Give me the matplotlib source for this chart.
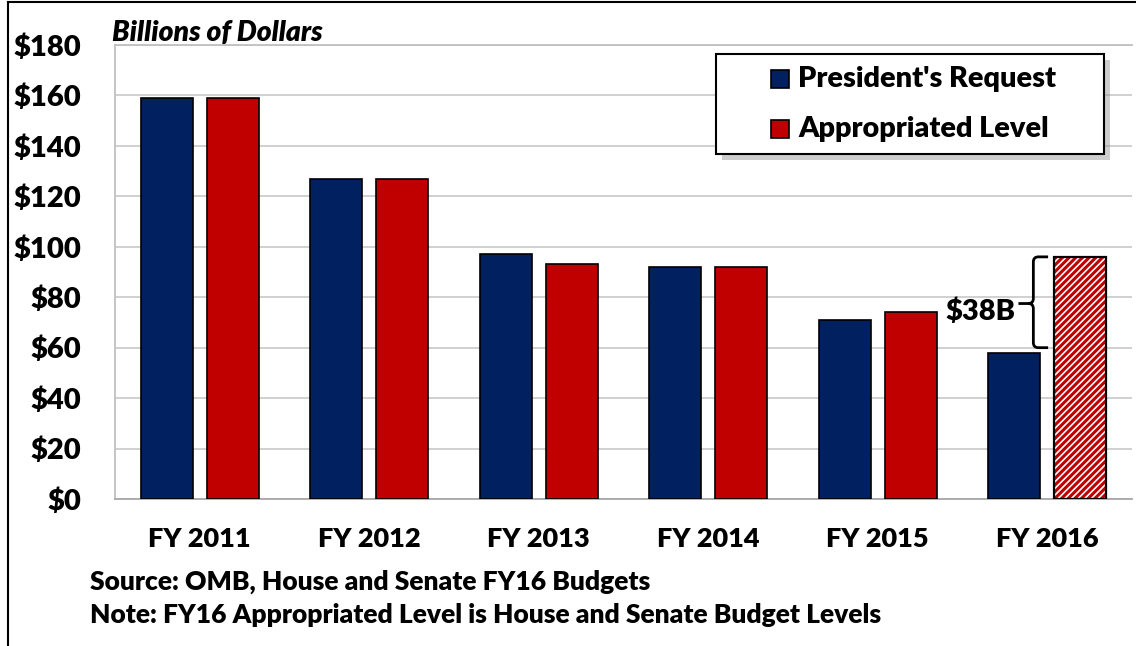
import numpy as np
import matplotlib
matplotlib.use("Agg")
import matplotlib.pyplot as plt
from matplotlib.patches import Rectangle
from matplotlib.path import Path
from matplotlib.patches import PathPatch
from matplotlib.lines import Line2D

# data (billions of dollars)
years = ["FY 2011", "FY 2012", "FY 2013", "FY 2014", "FY 2015", "FY 2016"]
request = [159, 127, 97, 92, 71, 58]
appropriated = [159, 127, 93, 92, 74, 96]
gap_label = "\\$38B"

navy = "#002060"
red = "#C00000"
W, H = 1136, 646
WT = "heavy"

plt.rcParams["font.family"] = ["Lato", "DejaVu Sans"]
plt.rcParams["font.weight"] = WT
plt.rcParams["hatch.linewidth"] = 2.2

fig = plt.figure(figsize=(W / 100, H / 100), dpi=100)
ax = fig.add_axes([115 / W, 1 - 499 / H, (1132 - 115) / W, (499 - 45) / H])

x = np.arange(len(years))
bw = 0.307
off = 0.195

ax.bar(x - off, request, bw, color=navy, edgecolor="black", linewidth=1.2, zorder=3)
# last appropriated bar is hatched (budget resolution level)
ax.bar(x[:-1] + off, appropriated[:-1], bw, color=red, edgecolor="black", linewidth=1.2, zorder=3)
ax.bar(x[-1:] + off, appropriated[-1:], bw, color="white", edgecolor=red, hatch="/////",
       linewidth=0, zorder=3)
ax.bar(x[-1:] + off, appropriated[-1:], bw, fill=False, edgecolor="black", linewidth=1.6, zorder=4)

ax.set_xlim(-0.5, len(years) - 0.5)
ax.set_ylim(0, 180)
ax.set_yticks(np.arange(0, 181, 20))
ax.set_yticklabels([f"${v}" for v in range(0, 181, 20)])
ax.set_xticks(x)
ax.set_xticklabels(years)
ax.tick_params(axis="y", length=0, pad=24, labelsize=21)
ax.tick_params(axis="x", length=0, pad=20, labelsize=19.5)
ax.grid(axis="y", color="#c8c8c8", linewidth=1.2, zorder=0)
for s in ["left", "top", "bottom"]:
    ax.spines[s].set_color("#c0c0c0")
    ax.spines[s].set_linewidth(1.3)
ax.spines["bottom"].set_color("#a8a8a8")
ax.spines["right"].set_visible(False)

# brace showing the gap in FY 2016
top = appropriated[-1]
bot = request[-1] + 2
mid = (top + bot) / 2 - 0.5
xv, xr, xt = 4.918, 5.005, 4.83
rx, ry = 0.03, 2.0
verts = [(xr, top), (xv + rx, top), (xv, top), (xv, top - ry), (xv, mid + ry), (xv, mid), (xv - rx, mid), (xt, mid),
         (xv - rx, mid), (xv, mid), (xv, mid - ry), (xv, bot + ry), (xv, bot), (xv + rx, bot), (xr, bot)]
codes = [Path.MOVETO, Path.LINETO, Path.CURVE3, Path.CURVE3, Path.LINETO, Path.CURVE3, Path.CURVE3, Path.LINETO,
         Path.MOVETO, Path.CURVE3, Path.CURVE3, Path.LINETO, Path.CURVE3, Path.CURVE3, Path.LINETO]
ax.add_patch(PathPatch(Path(verts, codes), fill=False, edgecolor="black", linewidth=2.0, zorder=5,
                       capstyle="butt"))
ax.annotate(gap_label, xy=(xt, mid), xytext=(-2, -6), textcoords="offset points",
            ha="right", va="center", fontsize=21, fontweight=WT)

ax.text(112 / W, 1 - 33 / H, "Billions of Dollars", transform=fig.transFigure, fontsize=20.3,
        style="italic", fontweight=WT, va="center", ha="left")

# legend box drawn by hand to match the original layout
lx0, ly0, lx1, ly1 = 716, 54, 1104, 154
fig.patches.append(Rectangle(((lx0 + 6) / W, 1 - (ly1 + 6) / H), (lx1 - lx0) / W, (ly1 - ly0) / H,
                             transform=fig.transFigure, facecolor="#909090", alpha=0.45,
                             edgecolor="none", zorder=8))
fig.patches.append(Rectangle((lx0 / W, 1 - ly1 / H), (lx1 - lx0) / W, (ly1 - ly0) / H,
                             transform=fig.transFigure, facecolor="white", edgecolor="black",
                             linewidth=1.5, zorder=9))
for yc, col, lab in [(79, navy, "President's Request"), (129, red, "Appropriated Level")]:
    fig.patches.append(Rectangle((771 / W, 1 - (yc + 9) / H), 18 / W, 18 / H, transform=fig.transFigure,
                                 facecolor=col, edgecolor="black", linewidth=1.2, zorder=10))
    fig.text(798 / W, 1 - yc / H, lab, fontsize=20.8, fontweight=WT, va="center", ha="left", zorder=10)

fig.text(90 / W, 1 - 582 / H, "Source: OMB, House and Senate FY16 Budgets", fontsize=19,
         fontweight=WT, va="center")
fig.text(90 / W, 1 - 615 / H, "Note: FY16 Appropriated Level is House and Senate Budget Levels", fontsize=19,
         fontweight=WT, va="center")

# outer frame of the original figure (left and top edges)
fig.lines.append(Line2D([8 / W, 8 / W], [0, 1 - 2 / H], transform=fig.transFigure, color="black", linewidth=1.5))
fig.lines.append(Line2D([8 / W, 1], [1 - 2 / H, 1 - 2 / H], transform=fig.transFigure, color="black", linewidth=1.5))

fig.savefig("out.png", dpi=100)
